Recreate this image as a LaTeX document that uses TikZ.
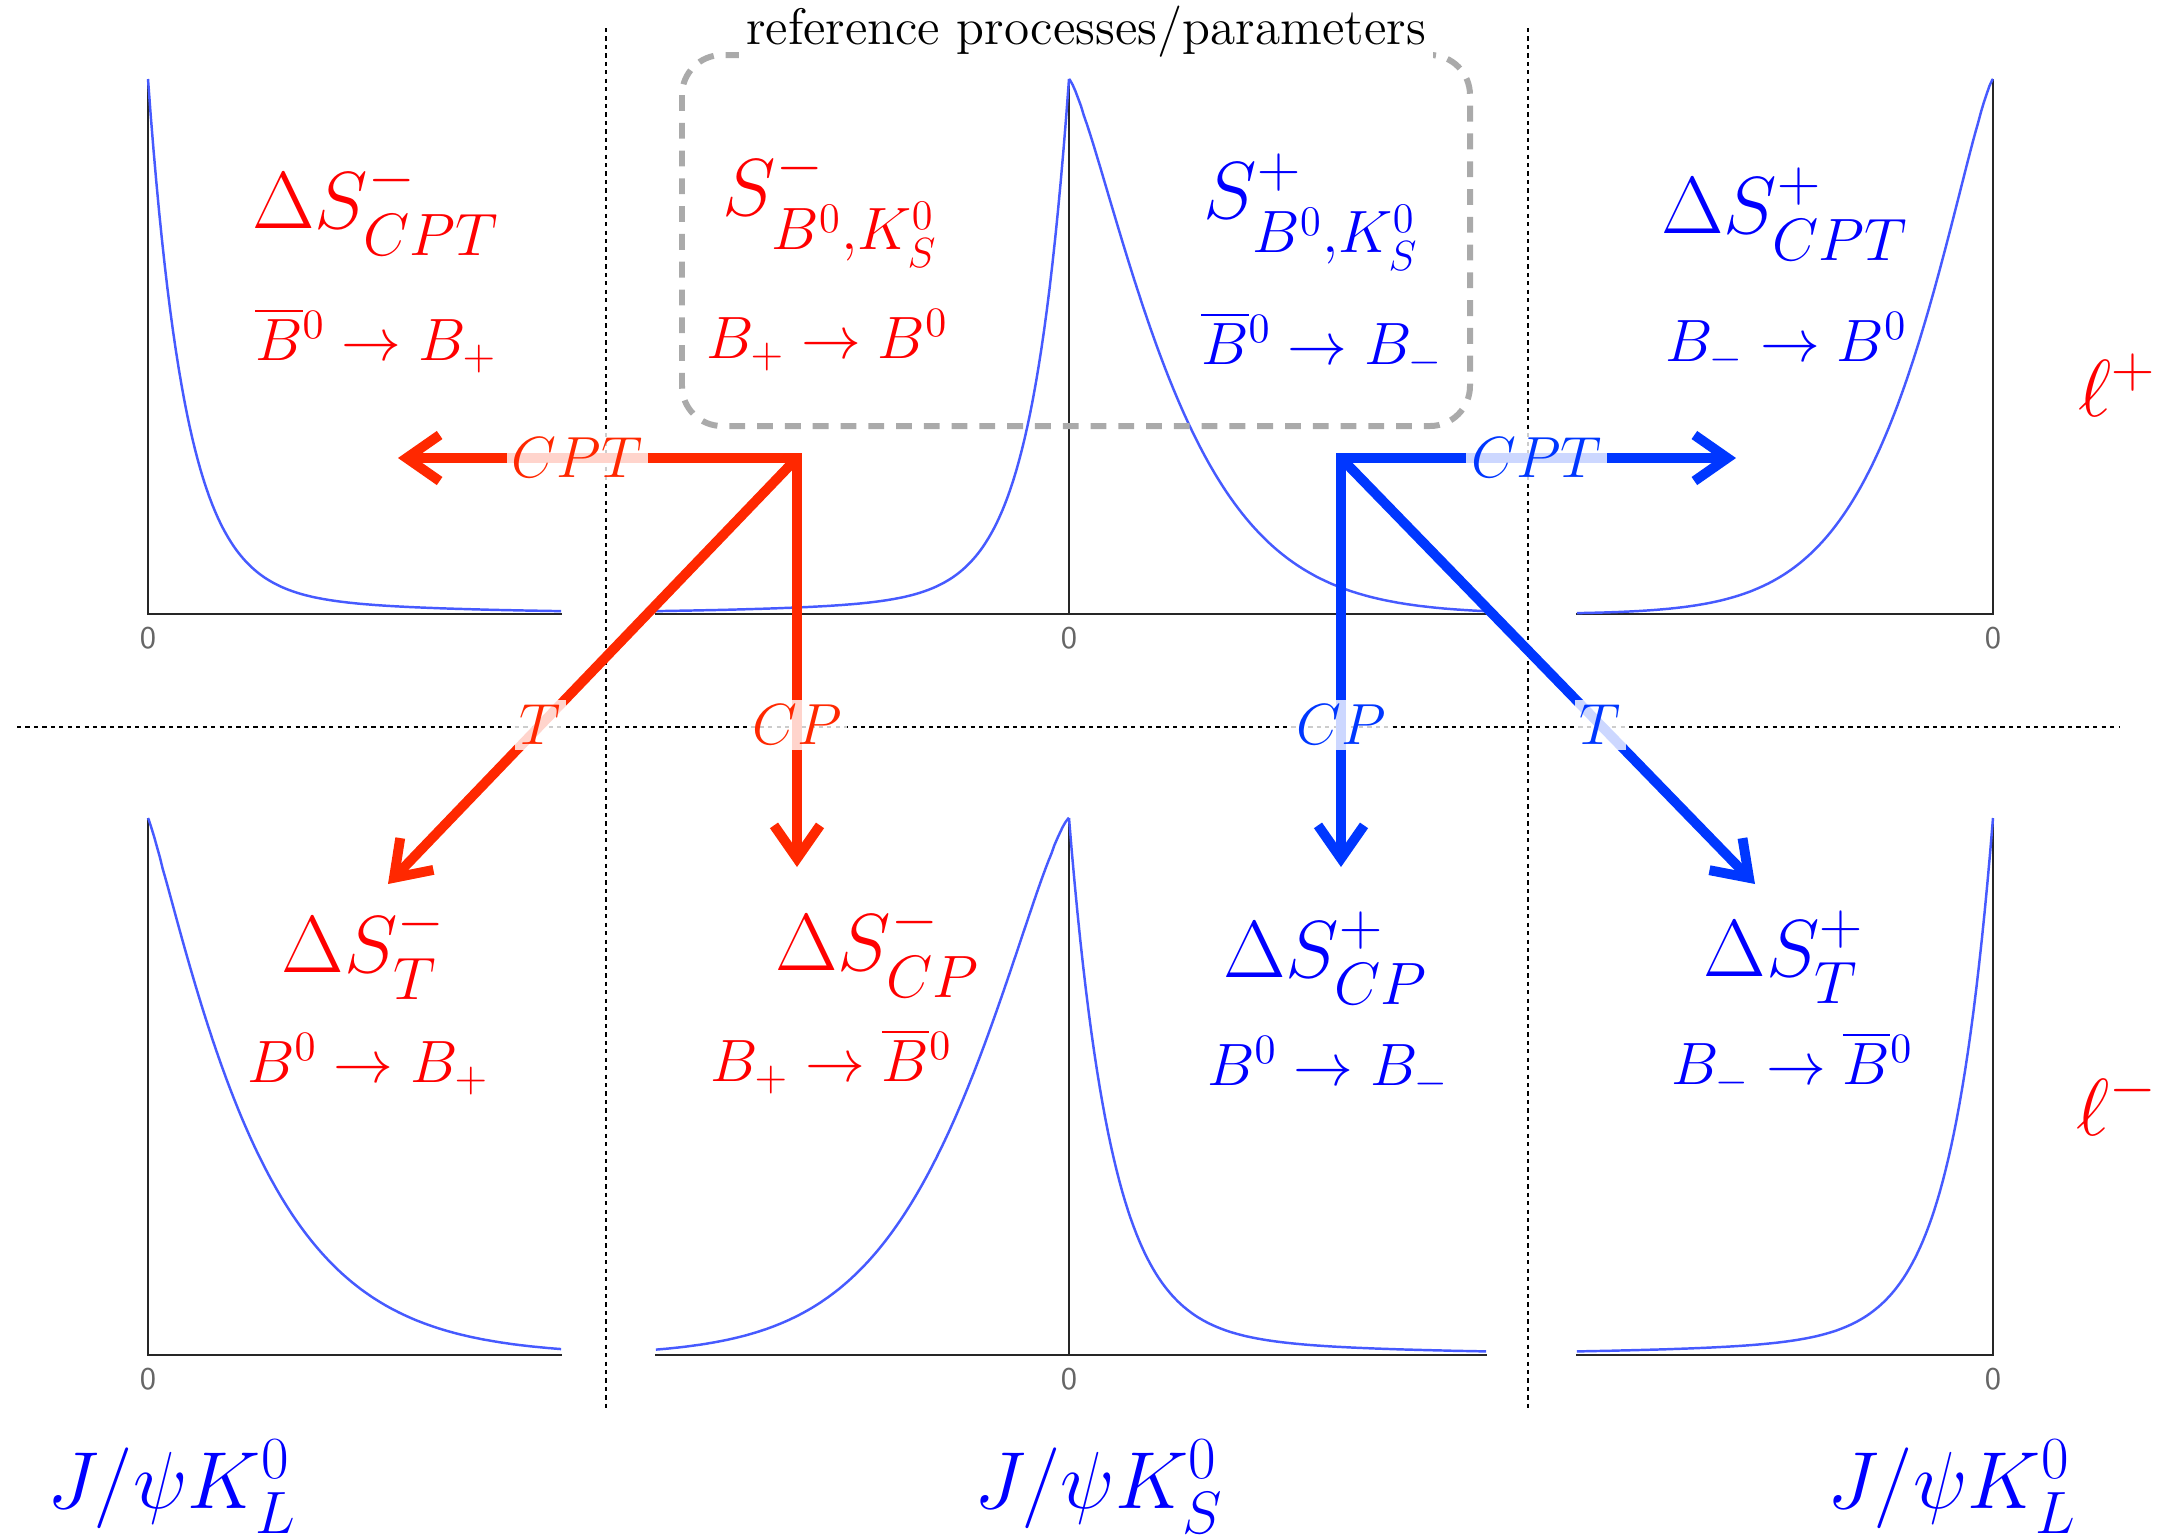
\RequirePackage{fix-cm}
\documentclass[tikz,border=0pt]{standalone}
\usepackage{amsmath}
\usetikzlibrary{calc, positioning, arrows.meta}

\DeclareMathSizes{23}{23}{17}{12}

\definecolor{procred}{RGB}{255,0,0}
\definecolor{procblue}{RGB}{0,0,255}
\definecolor{flipred}{RGB}{255,40,0}
\definecolor{flipblue}{RGB}{0,55,255}
\definecolor{rateblue}{RGB}{70,90,255}
\definecolor{boxgray}{RGB}{170,170,170}

\begin{document}
\begin{tikzpicture}[x=0.01cm, y=-0.01cm,
  declare function={fast(\s,\t)=0.95*exp(-\s/\t)+0.05*exp(-\s/(5*\t));
                    slow(\s,\a,\p)=exp(-((\s/\a)^\p));},
  axisline/.style={black!85, line width=0.8pt},
  rate/.style={rateblue, line width=0.7pt, samples=150},
  zero/.style={font=\sffamily\fontsize{9}{10}\selectfont, text=black!60},
  sep/.style={line width=0.7pt, dash pattern=on 1.2pt off 1.2pt},
  param/.style={font=\fontsize{23}{28}\selectfont},
  proc/.style={font=\fontsize{17}{20}\selectfont},
  flip/.style={line width=2.8pt, -{Straight Barb[length=3.3mm, width=4.6mm]}},
  fliplabel/.style={fill=white, fill opacity=0.8, text opacity=1, inner sep=1.5pt,
                    font=\fontsize{16.5}{20}\selectfont},
]
\useasboundingbox (0,0) rectangle (2175,1535);

% separating dotted lines
\draw[sep] (606,28) -- (606,1408);
\draw[sep] (1528,28) -- (1528,1408);
\draw[sep] (17,727) -- (2119,727);

% axes, upper row
\draw[axisline] (148,79) -- (148,614) -- (562,614);
\draw[axisline] (655,614) -- (1487,614);
\draw[axisline] (1069,79) -- (1069,614);
\draw[axisline] (1576,614) -- (1993,614) -- (1993,79);
% axes, lower row
\draw[axisline] (148,818) -- (148,1355) -- (562,1355);
\draw[axisline] (655,1355) -- (1487,1355);
\draw[axisline] (1069,818) -- (1069,1355);
\draw[axisline] (1576,1355) -- (1993,1355) -- (1993,818);

\foreach \ax in {148,1069,1993} {
  \node[zero] at (\ax,638) {0};
  \node[zero] at (\ax,1379) {0};
}

% decay rates, upper row
\begin{scope}[shift={(148,614)}, xscale=414, yscale=-535]
  \draw[rate] plot[domain=0:1] (\x, {fast(\x,0.09)});
\end{scope}
\begin{scope}[shift={(1069,614)}, xscale=-414, yscale=-535]
  \draw[rate] plot[domain=0:1] (\x, {fast(\x,0.09)});
\end{scope}
\begin{scope}[shift={(1069,614)}, xscale=418, yscale=-535]
  \draw[rate] (0,1) -- plot[domain=0.002:1] (\x, {slow(\x,0.279,1.3)});
\end{scope}
\begin{scope}[shift={(1993,614)}, xscale=-417, yscale=-535]
  \draw[rate] (0,1) -- plot[domain=0.002:1] (\x, {slow(\x,0.24,1.3)});
\end{scope}
% decay rates, lower row
\begin{scope}[shift={(148,1355)}, xscale=414, yscale=-537]
  \draw[rate] (0,1) -- plot[domain=0.002:1] (\x, {slow(\x,0.27,1.15)});
\end{scope}
\begin{scope}[shift={(1069,1355)}, xscale=-414, yscale=-537]
  \draw[rate] (0,1) -- plot[domain=0.002:1] (\x, {slow(\x,0.32,1.34)});
\end{scope}
\begin{scope}[shift={(1069,1355)}, xscale=418, yscale=-537]
  \draw[rate] plot[domain=0:1] (\x, {fast(\x,0.1)});
\end{scope}
\begin{scope}[shift={(1993,1355)}, xscale=-417, yscale=-537]
  \draw[rate] plot[domain=0:1] (\x, {fast(\x,0.1)});
\end{scope}

% reference box
\draw[boxgray, line width=1.7pt, dash pattern=on 4.5pt off 3.4pt, rounded corners=0.4cm]
  (682,55) rectangle (1470,426);
\node[fill=white, inner sep=2pt, font=\fontsize{14.6}{16}\selectfont] (reftitle) at (1086,32)
  {reference processes/parameters};

% parameters and processes
\node[param, text=procred] (dcptm) at (376,208) {$\Delta S^-_{CPT}$};
\node[proc, text=procred] (pcptm) at (376,340) {$\overline{B}{}^0 \to B_+$};
\node[param, text=procred] (sm) at (831,208) {$S^-_{B^0,K^0_S}$};
\node[proc, text=procred] (psm) at (827,340) {$B_+ \to B^0$};
\node[param, text=procblue] (sp) at (1312,212) {$S^+_{B^0,K^0_S}$};
\node[proc, text=procblue] (psp) at (1322,344) {$\overline{B}{}^0 \to B_-$};
\node[param, text=procblue] (dcptp) at (1785,214) {$\Delta S^+_{CPT}$};
\node[proc, text=procblue] (pcptp) at (1786,343) {$B_- \to B^0$};

\node[param, text=procred] (dtm) at (364,952) {$\Delta S^-_{T}$};
\node[proc, text=procred] (ptm) at (368,1064) {$B^0 \to B_+$};
\node[param, text=procred] (dcpm) at (878,950) {$\Delta S^-_{CP}$};
\node[proc, text=procred] (pcpm) at (831,1061) {$B_+ \to \overline{B}{}^0$};
\node[param, text=procblue] (dcpp) at (1326,958) {$\Delta S^+_{CP}$};
\node[proc, text=procblue] (pcpp) at (1328,1067) {$B^0 \to B_-$};
\node[param, text=procblue] (dtp) at (1784,957) {$\Delta S^+_{T}$};
\node[proc, text=procblue] (ptp) at (1792,1064) {$B_- \to \overline{B}{}^0$};

% tags and final states
\node[param, text=procred] (lplus) at (2117,385) {$\ell^+$};
\node[param, text=procred] (lminus) at (2117,1103) {$\ell^-$};
\node[param, text=procblue, inner sep=0pt] (kl1) at (172,1487) {$J/\psi K^0_L$};
\node[param, text=procblue, inner sep=0pt] (ks) at (1099,1487) {$J/\psi K^0_S$};
\node[param, text=procblue, inner sep=0pt] (kl2) at (1952,1487) {$J/\psi K^0_L$};

% symmetry transformations
\coordinate (rcorner) at (797,458);
\coordinate (rcpt) at (398,458);
\coordinate (rcp) at (797,867);
\coordinate (rt) at (388,884);
\coordinate (bcorner) at (1341,458);
\coordinate (bcpt) at (1736,458);
\coordinate (bcp) at (1341,867);
\coordinate (bt) at (1755,884);

\draw[flip, flipred] (rcorner) -- node[fliplabel, pos=0.627, text=flipred] {$T$} (rt);
\draw[flip, flipred, {Straight Barb[length=3.3mm, width=4.6mm]}-{Straight Barb[length=3.3mm, width=4.6mm]}]
  (rcpt) -- node[fliplabel, pos=0.449, text=flipred] {$CPT$} (rcorner)
  -- node[fliplabel, pos=0.653, text=flipred] {$CP$} (rcp);
\draw[flip, flipblue] (bcorner) -- node[fliplabel, pos=0.627, text=flipblue] {$T$} (bt);
\draw[flip, flipblue, {Straight Barb[length=3.3mm, width=4.6mm]}-{Straight Barb[length=3.3mm, width=4.6mm]}]
  (bcp) -- node[fliplabel, pos=0.347, text=flipblue] {$CP$} (bcorner)
  -- node[fliplabel, pos=0.496, text=flipblue] {$CPT$} (bcpt);
\end{tikzpicture}
\end{document}
